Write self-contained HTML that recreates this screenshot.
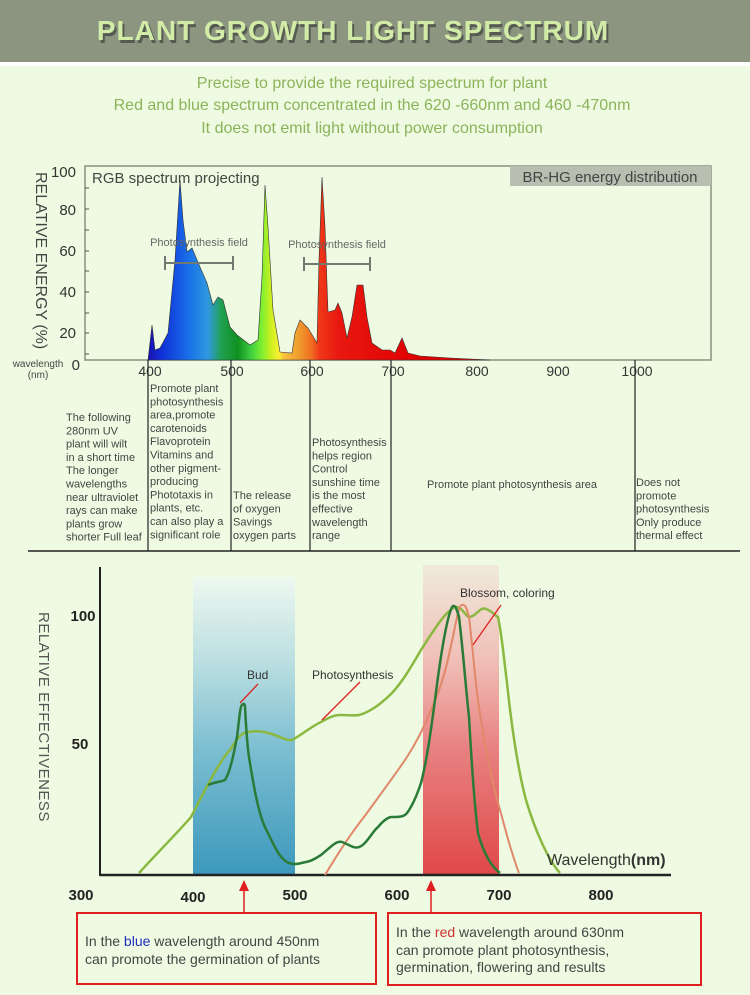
<!DOCTYPE html>
<html><head><meta charset="utf-8"><style>
html,body{margin:0;padding:0;background:#eefbe2;}
svg{display:block;font-family:"Liberation Sans",sans-serif;}
</style></head><body>
<svg width="750" height="995" viewBox="0 0 750 995" xmlns="http://www.w3.org/2000/svg">
<defs>
<linearGradient id="spec" x1="148" x2="420" y1="0" y2="0" gradientUnits="userSpaceOnUse">
<stop offset="0" stop-color="#1a10b0"/>
<stop offset="0.05" stop-color="#1030d8"/>
<stop offset="0.15" stop-color="#1870e8"/>
<stop offset="0.22" stop-color="#3098e0"/>
<stop offset="0.27" stop-color="#20a050"/>
<stop offset="0.33" stop-color="#109020"/>
<stop offset="0.38" stop-color="#40d040"/>
<stop offset="0.42" stop-color="#80f030"/>
<stop offset="0.45" stop-color="#c8f020"/>
<stop offset="0.48" stop-color="#f8f030"/>
<stop offset="0.50" stop-color="#f8c040"/>
<stop offset="0.55" stop-color="#f0a030"/>
<stop offset="0.60" stop-color="#f07020"/>
<stop offset="0.63" stop-color="#f03818"/>
<stop offset="0.70" stop-color="#e81810"/>
<stop offset="1" stop-color="#e00000"/>
</linearGradient>
<linearGradient id="blue" x1="0" x2="0" y1="0" y2="1">
<stop offset="0" stop-color="#eef8f0"/>
<stop offset="0.3" stop-color="#b8dde0"/>
<stop offset="0.6" stop-color="#78bcd0"/>
<stop offset="1" stop-color="#3c98bc"/>
</linearGradient>
<linearGradient id="red" x1="0" x2="0" y1="0" y2="1">
<stop offset="0" stop-color="#f0eadc"/>
<stop offset="0.3" stop-color="#f0c0b8"/>
<stop offset="0.6" stop-color="#e88080"/>
<stop offset="1" stop-color="#e04848"/>
</linearGradient>
</defs>
<!-- header -->
<rect x="0" y="0" width="750" height="62" fill="#8b9580"/>
<rect x="0" y="62" width="750" height="4" fill="#ffffff"/>
<text x="353" y="40" text-anchor="middle" font-size="28" font-weight="bold" fill="#333" opacity="0.6" letter-spacing="1" transform="translate(2,3)">PLANT GROWTH LIGHT SPECTRUM</text>
<text x="353" y="40" text-anchor="middle" font-size="28" font-weight="bold" fill="#d2eca8" letter-spacing="1">PLANT GROWTH LIGHT SPECTRUM</text>
<g font-size="16" fill="#8cb35a" text-anchor="middle">
<text x="372" y="88">Precise to provide the required spectrum for plant</text>
<text x="372" y="110">Red and blue spectrum concentrated in the 620 -660nm and 460 -470nm</text>
<text x="372" y="133">It does not emit light without power consumption</text>
</g>
<!-- top chart -->
<rect x="85" y="166" width="626" height="194" fill="none" stroke="#8a9080" stroke-width="1.5"/>
<rect x="510" y="166" width="201" height="20" fill="#b8bfb0"/>
<text x="610" y="182" text-anchor="middle" font-size="15" fill="#444">BR-HG energy distribution</text>
<text x="92" y="183" font-size="15" fill="#444">RGB spectrum projecting</text>
<g font-size="15" fill="#333" text-anchor="end">
<text x="76" y="177">100</text><text x="76" y="215">80</text><text x="76" y="256">60</text>
<text x="76" y="297">40</text><text x="76" y="338">20</text><text x="80" y="370">0</text>
</g>
<g stroke="#555" stroke-width="1">
<line x1="85" y1="188" x2="89" y2="188"/><line x1="85" y1="209" x2="89" y2="209"/><line x1="85" y1="230" x2="89" y2="230"/>
<line x1="85" y1="251" x2="89" y2="251"/><line x1="85" y1="271" x2="89" y2="271"/><line x1="85" y1="292" x2="89" y2="292"/>
<line x1="85" y1="313" x2="89" y2="313"/><line x1="85" y1="333" x2="89" y2="333"/><line x1="85" y1="354" x2="89" y2="354"/>
</g>
<text transform="translate(36,172) rotate(90)" font-size="16" fill="#444">RELATIVE ENERGY (%)</text>
<text x="38" y="367" text-anchor="middle" font-size="10" fill="#444">wavelength</text>
<text x="38" y="378" text-anchor="middle" font-size="10" fill="#444">(nm)</text>
<path d="M148,360 L152,325 L155,350 L160,348 L168,333 L175,260 L180,180 L183,220 L187,252 L192,248 L200,267 L207,283 L213,305 L218,297 L223,300 L230,327 L237,335 L250,345 L258,340 L262,277 L265,185 L268,227 L273,310 L280,352 L292,353 L295,333 L300,320 L308,328 L317,343 L319,260 L322,177 L325,227 L328,312 L335,310 L338,303 L342,313 L347,338 L352,317 L357,285 L363,285 L367,317 L372,343 L382,350 L390,350 L395,353 L402,338 L408,353 L420,356 L450,358 L490,360 Z" fill="url(#spec)" stroke="#333" stroke-width="0.6"/>
<g stroke="#707a70" stroke-width="2" fill="none">
<line x1="165" y1="263" x2="233" y2="263"/><line x1="165" y1="256" x2="165" y2="270"/><line x1="233" y1="256" x2="233" y2="270"/>
<line x1="304" y1="264" x2="370" y2="264"/><line x1="304" y1="257" x2="304" y2="271"/><line x1="370" y1="257" x2="370" y2="271"/>
</g>
<text x="199" y="246" text-anchor="middle" font-size="11" fill="#666">Photosynthesis field</text>
<text x="337" y="248" text-anchor="middle" font-size="11" fill="#666">Photosynthesis field</text>
<g font-size="14" fill="#333" text-anchor="middle">
<text x="150" y="376">400</text><text x="232" y="376">500</text><text x="312" y="376">600</text>
<text x="393" y="376">700</text><text x="477" y="376">800</text><text x="558" y="376">900</text><text x="637" y="376">1000</text>
</g>
<g stroke="#222" stroke-width="1.2">
<line x1="148" y1="360" x2="148" y2="551"/><line x1="231" y1="360" x2="231" y2="551"/>
<line x1="310" y1="360" x2="310" y2="551"/><line x1="391" y1="360" x2="391" y2="551"/>
<line x1="635" y1="360" x2="635" y2="551"/>
<line x1="28" y1="551" x2="740" y2="551" stroke-width="1.5"/>
</g>
<g font-size="11" fill="#444">
<text x="66" y="421"><tspan x="66">The following</tspan><tspan x="66" dy="13.3">280nm UV</tspan><tspan x="66" dy="13.3">plant will wilt</tspan><tspan x="66" dy="13.3">in a short time</tspan><tspan x="66" dy="13.3">The longer</tspan><tspan x="66" dy="13.3">wavelengths</tspan><tspan x="66" dy="13.3">near ultraviolet</tspan><tspan x="66" dy="13.3">rays can make</tspan><tspan x="66" dy="13.3">plants grow</tspan><tspan x="66" dy="13.3">shorter Full leaf</tspan></text>
<text x="150" y="392"><tspan x="150">Promote plant</tspan><tspan x="150" dy="13.3">photosynthesis</tspan><tspan x="150" dy="13.3">area,promote</tspan><tspan x="150" dy="13.3">carotenoids</tspan><tspan x="150" dy="13.3">Flavoprotein</tspan><tspan x="150" dy="13.3">Vitamins and</tspan><tspan x="150" dy="13.3">other pigment-</tspan><tspan x="150" dy="13.3">producing</tspan><tspan x="150" dy="13.3">Phototaxis in</tspan><tspan x="150" dy="13.3">plants, etc.</tspan><tspan x="150" dy="13.3">can also play a</tspan><tspan x="150" dy="13.3">significant role</tspan></text>
<text x="233" y="499"><tspan x="233">The release</tspan><tspan x="233" dy="13.3">of oxygen</tspan><tspan x="233" dy="13.3">Savings</tspan><tspan x="233" dy="13.3">oxygen parts</tspan></text>
<text x="312" y="446"><tspan x="312">Photosynthesis</tspan><tspan x="312" dy="13.3">helps region</tspan><tspan x="312" dy="13.3">Control</tspan><tspan x="312" dy="13.3">sunshine time</tspan><tspan x="312" dy="13.3">is the most</tspan><tspan x="312" dy="13.3">effective</tspan><tspan x="312" dy="13.3">wavelength</tspan><tspan x="312" dy="13.3">range</tspan></text>
<text x="512" y="488" text-anchor="middle">Promote plant photosynthesis area</text>
<text x="636" y="486"><tspan x="636">Does not</tspan><tspan x="636" dy="13.3">promote</tspan><tspan x="636" dy="13.3">photosynthesis</tspan><tspan x="636" dy="13.3">Only produce</tspan><tspan x="636" dy="13.3">thermal effect</tspan></text>
</g>
<!-- bottom chart -->
<rect x="193" y="577" width="102" height="298" fill="url(#blue)"/>
<rect x="423" y="565" width="76" height="310" fill="url(#red)"/>
<line x1="100" y1="567" x2="100" y2="876" stroke="#222" stroke-width="2"/>
<line x1="100" y1="875" x2="671" y2="875" stroke="#222" stroke-width="2.5"/>
<path d="M139,873 C160,850 180,830 191,817 C205,790 220,760 230,750 C236,740 240,735 244,733 C255,730 262,731 268,733 C280,736 286,741 292,740 C300,736 312,726 321,722 C330,717 335,715 340,715 C350,715 354,716 359,715 C370,712 382,703 392,693 C404,680 412,665 421,650 C435,628 445,612 455,607 C462,606 466,617 469,617 C476,617 480,606 486,609 C494,612 496,617 498,617 C502,635 504,660 507,683 C512,730 518,770 526,800 C535,830 548,860 560,873" fill="none" stroke="#8ab840" stroke-width="2.5"/>
<path d="M325,875 C340,850 352,832 364,817 C380,795 395,775 407,757 C418,740 425,725 431,710 C440,690 446,670 450,650 C455,630 458,605 462,605 C466,604 467,610 469,617 C473,650 475,680 478,700 C485,750 494,790 502,817 C508,840 514,860 519,873" fill="none" stroke="#e08868" stroke-width="2"/>
<path d="M208,785 C215,782 220,782 225,780 C231,770 234,752 237,737 C239,722 240,706 242,705 C244,703 245,704 245,707 C246,725 247,745 249,757 C255,795 260,820 268,833 C275,848 280,858 287,862 C295,866 300,863 306,862 C312,861 316,858 321,855 C330,848 336,840 342,842 C350,845 354,849 359,847 C366,845 372,832 378,827 C384,820 388,817 392,817 C399,817 404,817 407,813 C413,805 417,795 421,783 C427,760 431,730 435,700 C440,660 446,620 452,607 C455,603 457,610 459,617 C463,650 466,690 469,717 C472,770 475,810 478,833 C484,855 492,867 500,873" fill="none" stroke="#2a7a38" stroke-width="2.5"/>
<g stroke="#e02020" stroke-width="1.3">
<line x1="258" y1="684" x2="240" y2="703"/>
<line x1="360" y1="682" x2="322" y2="720"/>
<line x1="501" y1="605" x2="473" y2="645"/>
</g>
<g font-size="12" fill="#333">
<text x="247" y="679">Bud</text>
<text x="312" y="679">Photosynthesis</text>
<text x="460" y="597">Blossom, coloring</text>
</g>
<text x="547" y="865" font-size="16" fill="#333">Wavelength<tspan font-weight="bold">(nm)</tspan></text>
<text transform="translate(39,612) rotate(90)" font-size="15" fill="#555" letter-spacing="0.5">RELATIVE EFFECTIVENESS</text>
<g font-size="15" font-weight="bold" fill="#222" text-anchor="middle">
<text x="83" y="621">100</text><text x="80" y="749">50</text>
<text x="81" y="900">300</text><text x="193" y="902">400</text><text x="295" y="900">500</text>
<text x="397" y="900">600</text><text x="499" y="900">700</text><text x="601" y="900">800</text>
</g>
<g stroke="#e02020" fill="#e02020">
<line x1="244" y1="888" x2="244" y2="913" stroke-width="1.5"/><path d="M239,891 L244,880 L249,891 Z" stroke="none"/>
<line x1="431" y1="888" x2="431" y2="913" stroke-width="1.5"/><path d="M426,891 L431,880 L436,891 Z" stroke="none"/>
</g>
<rect x="77" y="913" width="299" height="71" fill="none" stroke="#e02020" stroke-width="2"/>
<rect x="388" y="913" width="313" height="72" fill="none" stroke="#e02020" stroke-width="2"/>
<g font-size="14" fill="#444">
<text x="85" y="946">In the <tspan fill="#2030c0">blue</tspan> wavelength around 450nm</text>
<text x="85" y="964">can promote the germination of plants</text>
<text x="396" y="937">In the <tspan fill="#d03030">red</tspan> wavelength around 630nm</text>
<text x="396" y="955">can promote plant photosynthesis,</text>
<text x="396" y="972">germination, flowering and results</text>
</g>
</svg>
</body></html>
